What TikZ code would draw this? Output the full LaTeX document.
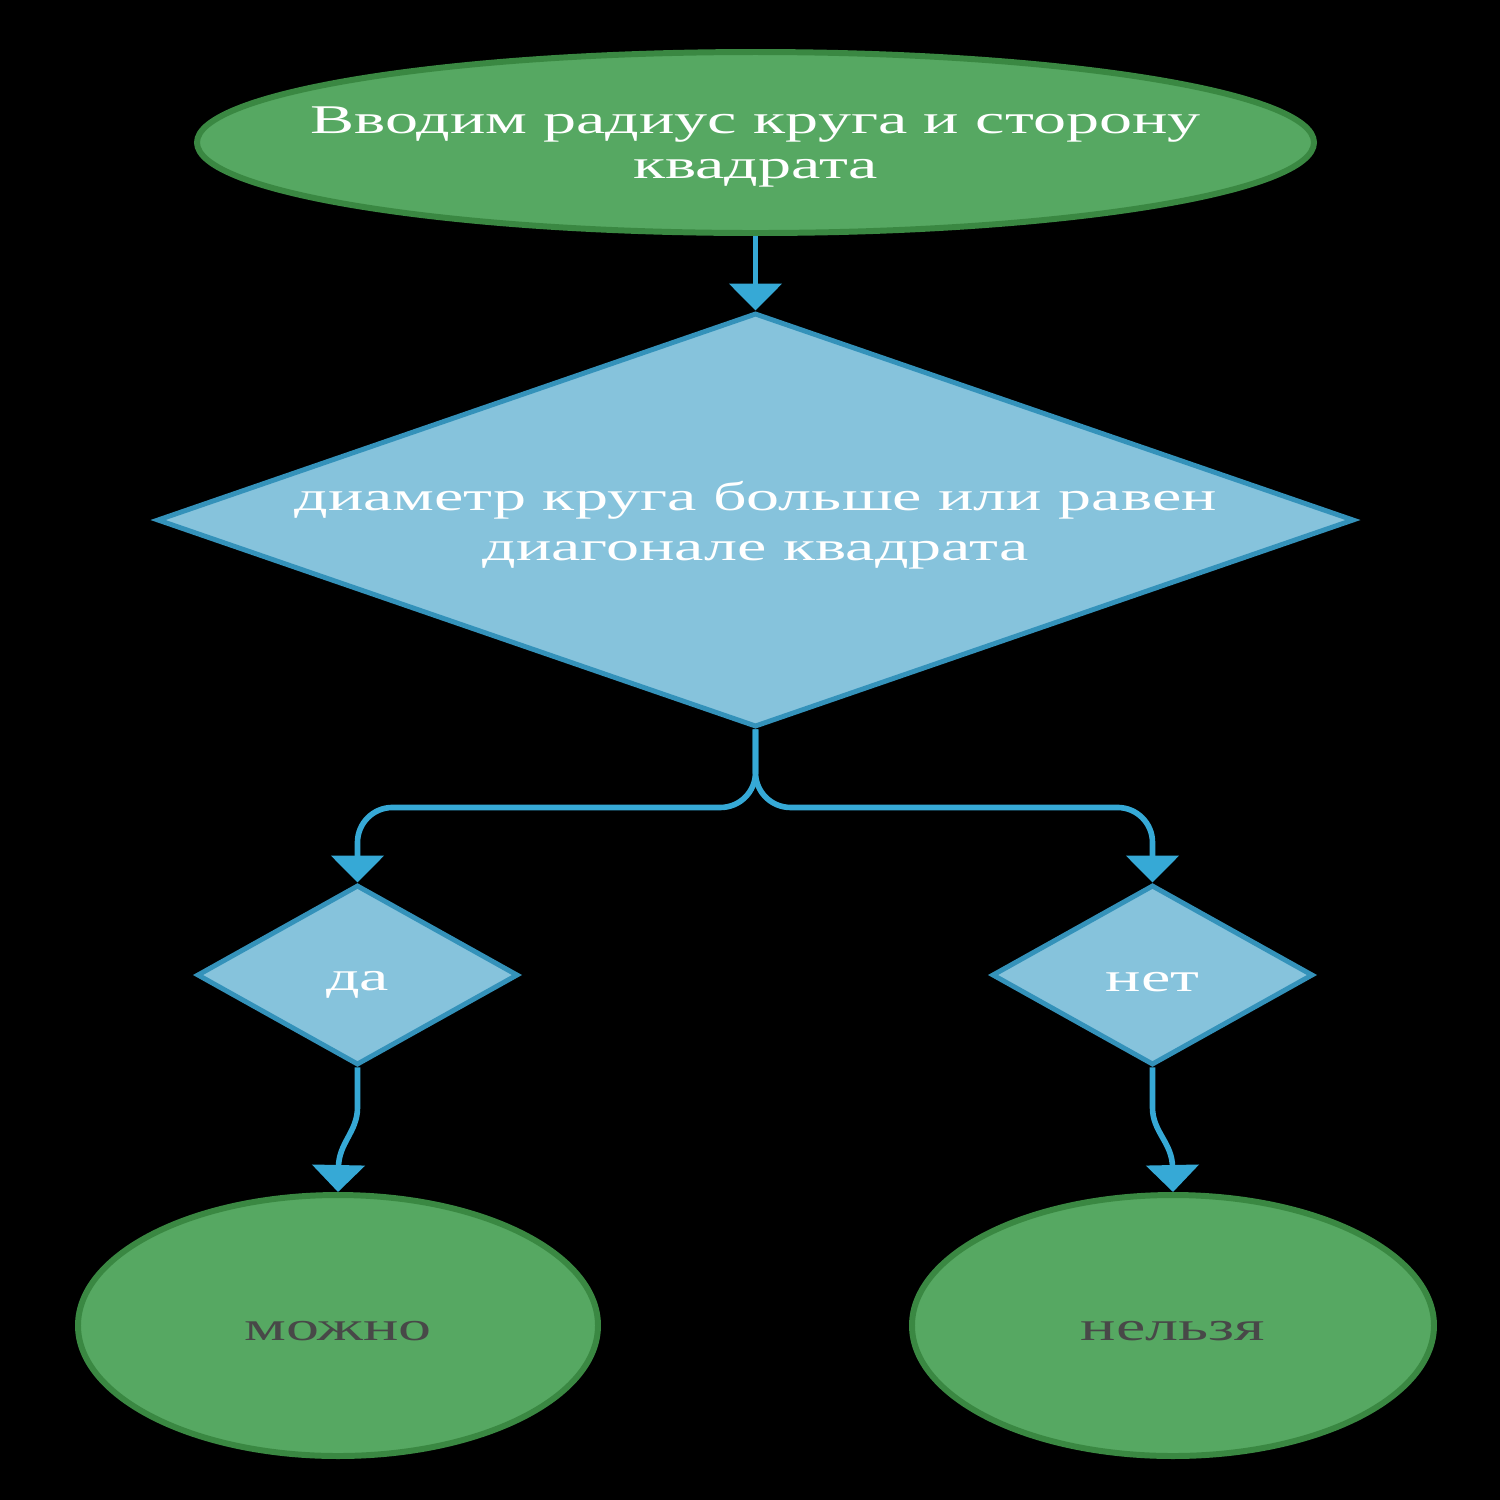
\documentclass[tikz,border=0pt]{standalone}
\usepackage{fontspec}
\setmainfont{Liberation Serif}[FakeStretch=1.62]
\usetikzlibrary{shapes.geometric,arrows.meta}
\definecolor{okgreen}{RGB}{86,168,98}
\definecolor{okgreendark}{RGB}{58,136,66}
\definecolor{qblue}{RGB}{134,195,220}
\definecolor{qbluedark}{RGB}{52,146,186}
\definecolor{flowblue}{RGB}{54,169,214}
\definecolor{txtgrey}{RGB}{72,72,72}

\begin{document}
\begin{tikzpicture}[
    oval/.style={ellipse,draw=okgreendark,fill=okgreen,line width=1.7pt,inner sep=0pt},
    rhomb/.style={diamond,draw=qbluedark,fill=qblue,line width=1.4pt,inner sep=0pt},
    lbl/.style={text=white,align=center,yshift=-0.04cm,font=\fontsize{11.6}{12.8}\selectfont},
    lblgrey/.style={lbl,text=txtgrey,yshift=-0.02cm},
    flow/.style={draw=flowblue,line width=1.6pt,-{Triangle[width=0.52cm,length=0.27cm]}}
  ]
        \fill[black] (0,0) rectangle (15,-15);
        \useasboundingbox (0,0) rectangle (15,-15);
        % shapes
        \node[oval,minimum width=11.17cm,minimum height=1.81cm,
          label={[lbl]center:Вводим радиус круга и сторону\\квадрата}] (input) at (7.555,-1.425) {};
        \node[rhomb,minimum width=11.97cm,minimum height=4.14cm,
          label={[lbl,yshift=-0.015cm,font=\fontsize{11.6}{14.2}\selectfont]center:диаметр круга больше или равен\\диагонале квадрата}] (cond) at (7.555,-5.2) {};
        \node[rhomb,minimum width=3.21cm,minimum height=1.8cm,label={[lbl,yshift=-0.06cm]center:да}] (yes) at (3.575,-9.75) {};
        \node[rhomb,minimum width=3.21cm,minimum height=1.8cm,label={[lbl,yshift=-0.03cm]center:нет}] (no) at (11.525,-9.75) {};
        \node[oval,minimum width=5.2cm,minimum height=2.61cm,label={[lblgrey]center:можно}] (can) at (3.38,-13.255) {};
        \node[oval,minimum width=5.22cm,minimum height=2.61cm,label={[lblgrey]center:нельзя}] (cannot) at (11.73,-13.255) {};
        % connectors
        \draw[flow] (input) -- (cond);
        \draw[flow,rounded corners=0.35cm] (cond.south) -- ++(0,-0.78) -| (yes.north);
        \draw[flow,rounded corners=0.35cm] (cond.south) -- ++(0,-0.78) -| (no.north);
        \draw[flow] (yes.south) -- ++(0,-0.4) to[out=-90,in=90] ++(-0.19,-0.6) -- (can.north);
        \draw[flow] (no.south) -- ++(0,-0.4) to[out=-90,in=90] ++(0.2,-0.6) -- (cannot.north);
      \end{tikzpicture}
\end{document}
